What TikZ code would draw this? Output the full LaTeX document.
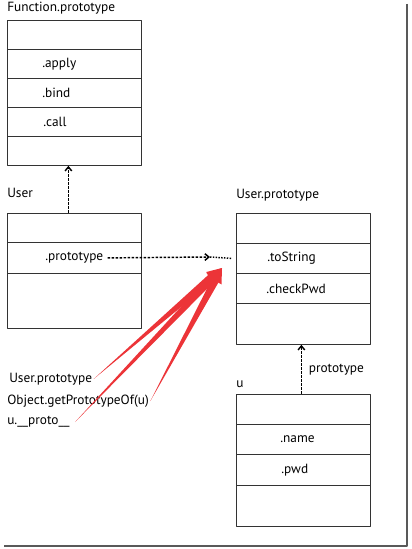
\documentclass[tikz,border=0pt]{standalone}
\usepackage{fontspec}
\setmainfont{PT Sans}
\usetikzlibrary{arrows.meta,calc}
\definecolor{pointer}{RGB}{236,52,56}

\begin{document}
\begin{tikzpicture}[x=0.75pt, y=-0.75pt, line join=round,
    font=\fontsize{10}{12}\selectfont,
    cell/.style={draw=black!80, line width=0.6pt, minimum width=100.5pt, anchor=north west, inner sep=0pt},
    lbl/.style={anchor=west, inner sep=0pt},
    link/.style={dash pattern=on 2pt off 1pt, line width=1.1pt, -{Straight Barb[length=3pt, width=5pt]}}]
  \useasboundingbox (0,0) rectangle (411,549);
  % Function.prototype
  \node[lbl] (fpT) at (7,8) {Function.prototype};
  \foreach \i/\y in {1/20,2/49,3/78,4/107,5/136} { \node[cell, minimum height=21.75pt] (fp\i) at (7,\y) {}; }
  \node[lbl] (fpApply) at ($(fp2.west)+(35,0)$) {.apply};
  \node[lbl] (fpBind) at ($(fp3.west)+(35,0)$) {.bind};
  \node[lbl] (fpCall) at ($(fp4.west)+(36,0)$) {.call};
  % User
  \node[lbl] (userT) at (7,193) {User};
  \foreach \i/\y/\h in {1/213/29,2/242/31,3/273/55} { \node[cell, minimum height=\h*0.75pt] (user\i) at (7,\y) {}; }
  \node[lbl] (userProto) at ($(user2.west)+(38,0)$) {.prototype};
  % User.prototype
  \node[lbl] (upT) at (236,195) {User.prototype};
  \foreach \i/\y/\h in {1/213/30,2/243/30,3/273/30,4/303/41} { \node[cell, minimum height=\h*0.75pt] (up\i) at (236,\y) {}; }
  \node[lbl] (upToString) at ($(up2.west)+(31,0)$) {.toString};
  \node[lbl] (upCheck) at ($(up3.west)+(30,0)$) {.checkPwd};
  % u
  \node[lbl] (uT) at (236,384) {u};
  \foreach \i/\y/\h in {1/394/30,2/424/30,3/454/31,4/485/41} { \node[cell, minimum height=\h*0.75pt] (u\i) at (236,\y) {}; }
  \node[lbl] (uName) at ($(u2.west)+(44,0)$) {.name};
  \node[lbl] (uPwd) at ($(u3.west)+(45,0)$) {.pwd};
  % prototype links
  \draw[link] ([xshift=-4.5pt]user1.north) -- ([xshift=-4.5pt]fp5.south);
  \coordinate (protoTip) at (210,257);
  \draw[link] ([xshift=3pt]userProto.east) -- (protoTip);
  \draw[densely dotted, line width=1.1pt] (protoTip) -- ([xshift=-3pt]up2.west);
  \draw[link] ([xshift=-1.5pt]u1.north) -- ([xshift=-1.5pt]up4.south) node[midway, right=5pt, inner sep=0pt] {prototype};
  % the three ways of reaching User.prototype
  \node[lbl] (aProto) at (9,379) {User.prototype};
  \node[lbl] (aGet) at (7,401) {Object.getPrototypeOf(u)};
  \node[lbl] (aDunder) at (7,422) {u.\_\_proto\_\_};
  \coordinate (redTip) at (222,268);
  \coordinate (from1) at ([xshift=1pt]aProto.east);
  \coordinate (from2) at ([xshift=1pt]aGet.east);
  \coordinate (from3) at ([xshift=4pt]aDunder.east);
  \foreach \n in {1,2,3} {
    \coordinate (head\n) at ($(redTip)!11pt!(from\n)$);
    \fill[pointer] (from\n) -- ($(head\n)!2.8pt!90:(from\n)$) -- ($(head\n)!2.8pt!-90:(from\n)$) -- cycle;
    \fill[pointer] (redTip) -- ($(head\n)!5.5pt!90:(from\n)$) -- ($(head\n)!5.5pt!-90:(from\n)$) -- cycle;
  }
  % page shadow
  \draw[black!65, line width=2pt] (407,4) -- (407,546) -- (4,546);
\end{tikzpicture}
\end{document}
